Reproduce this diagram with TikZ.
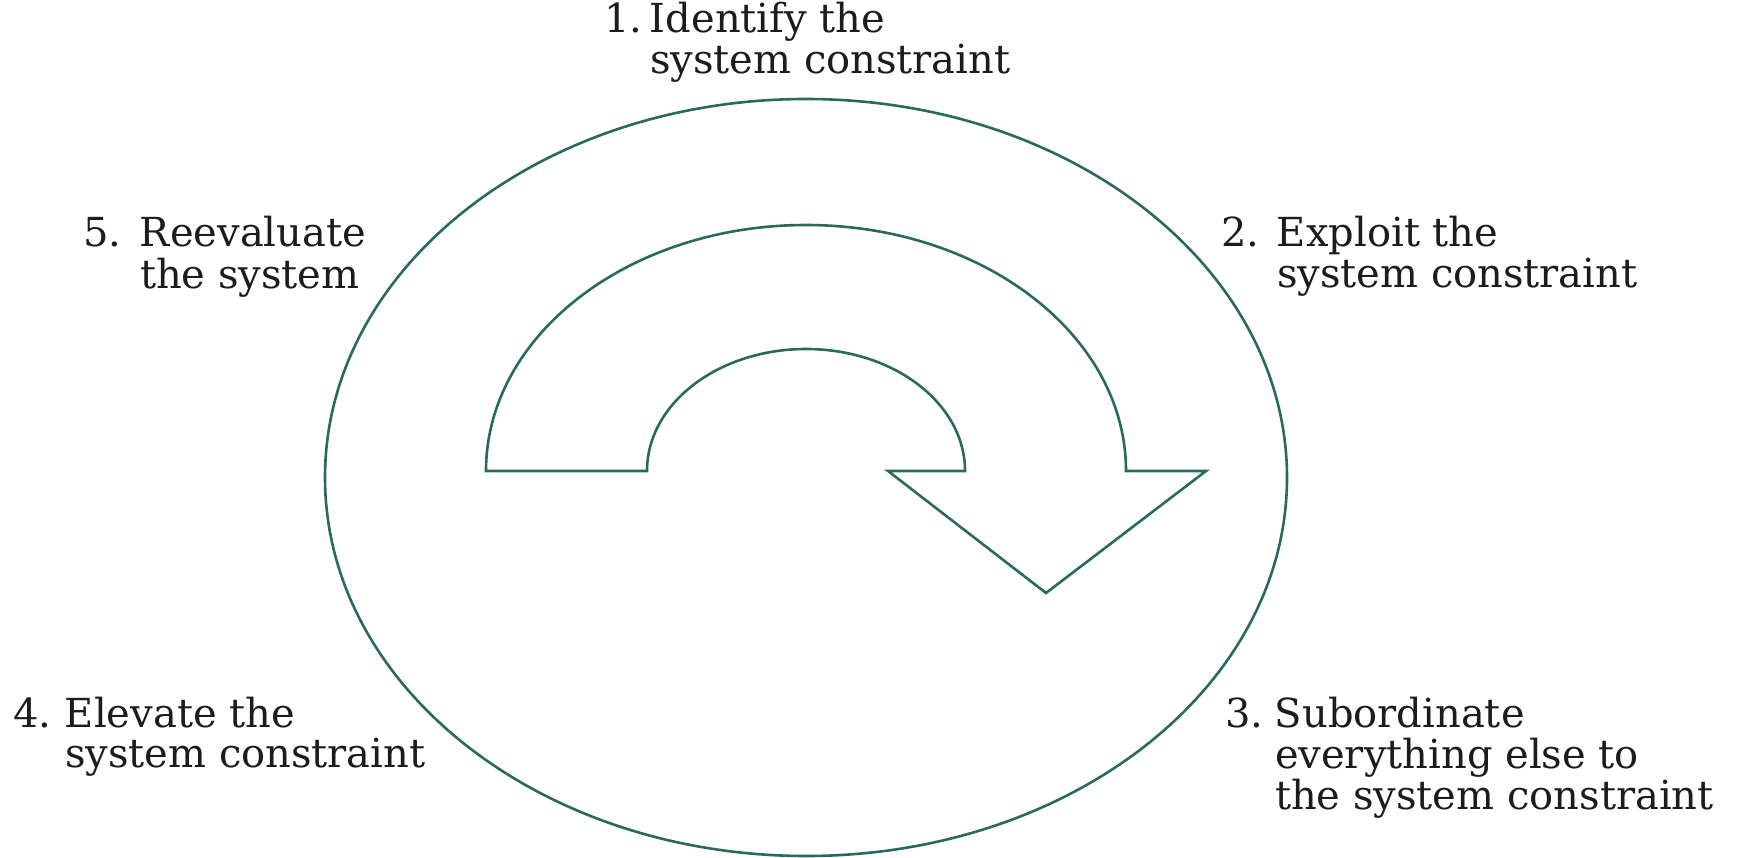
\documentclass[tikz,border=0pt]{standalone}
\usepackage{fontspec}
\setmainfont{DejaVu Serif}
\definecolor{ringteal}{RGB}{42,106,94}
\definecolor{labelink}{RGB}{28,28,28}
\tikzset{
  ring/.style={draw=ringteal, line width=2.6pt},
  steplabel/.style={anchor=base west, inner sep=0pt, outer sep=0pt, text=labelink,
    font=\fontsize{40pt}{36pt}\selectfont},
}
% number column (width given as optional argument) followed by a
% hanging-indent text block; continuation lines are written as "\\& text"
\newcommand{\toclabel}[3][46pt]{%
  \renewcommand{\arraystretch}{1}%
  \begin{tabular}[t]{@{}l@{}l@{}}\makebox[#1][l]{#2}&#3\end{tabular}}
\begin{document}
\begin{tikzpicture}[x=1pt,y=1pt]
  \useasboundingbox (0,0) rectangle (1740,-858);
  \fill[white] (0,0) rectangle (1740,-858);

  % outer cycle
  \draw[ring] (806,-477.5) ellipse [x radius=481, y radius=378.5];

  % curved arrow turning clockwise
  \draw[ring, line join=miter]
    (486,-471) arc[start angle=180, end angle=0, x radius=320, y radius=246]
    -- (1206,-471) -- (1046,-593) -- (888,-471) -- (965,-471)
    arc[start angle=0, end angle=180, x radius=159, y radius=122]
    -- cycle;

  % the five steps
  \node[steplabel] (s1) at (604,-33)  {\toclabel[46pt]{1.}{Identify the\\&system constraint}};
  \node[steplabel] (s2) at (1221,-247) {\toclabel[56pt]{2.}{Exploit the\\&system constraint}};
  \node[steplabel] (s3) at (1225,-727) {\toclabel[50pt]{3.}{Subordinate\\&everything else to\\&the system constraint}};
  \node[steplabel] (s4) at (13,-727)   {\toclabel[52pt]{4.}{Elevate the\\&system constraint}};
  \node[steplabel] (s5) at (83,-247)   {\toclabel[57pt]{5.}{Reevaluate\\&the system}};
\end{tikzpicture}
\end{document}
